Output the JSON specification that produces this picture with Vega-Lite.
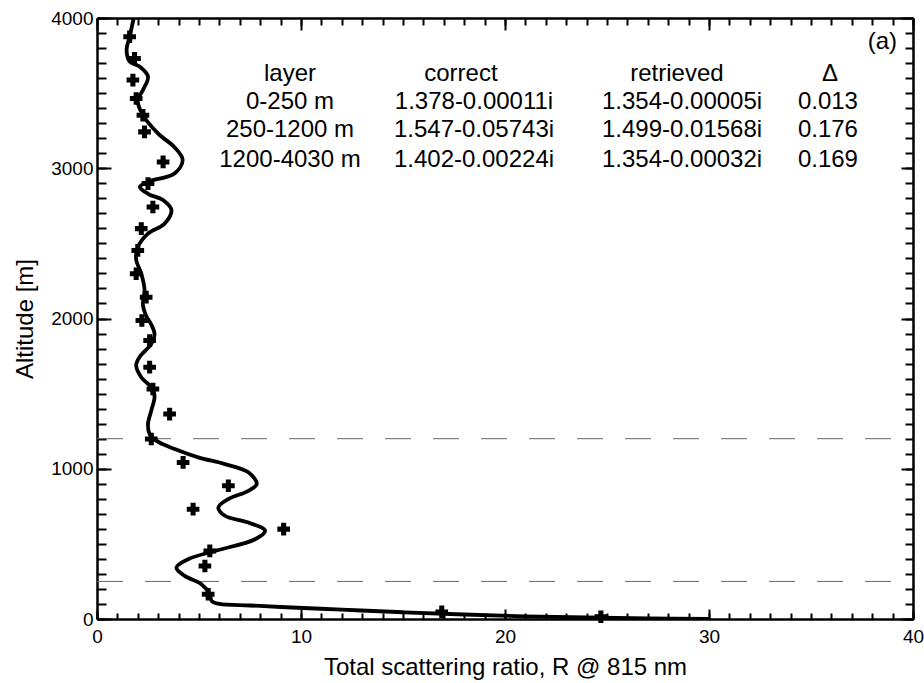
{
  "$schema": "https://vega.github.io/schema/vega-lite/v6.json",
  "width": 816,
  "height": 601,
  "autosize": {"type": "none"},
  "padding": {"left": 97, "top": 18, "right": 11, "bottom": 64},
  "background": "white",
  "config": {
    "view": {"stroke": null},
    "font": "Liberation Sans",
    "axis": {
      "domainColor": "black",
      "domainWidth": 2.5,
      "tickColor": "black",
      "tickWidth": 2,
      "labelColor": "black",
      "labelFont": "Liberation Sans",
      "labelFontSize": 19,
      "titleFont": "Liberation Sans",
      "titleFontSize": 24,
      "titleFontWeight": "normal",
      "titleColor": "black",
      "grid": false,
      "labelFlush": false,
      "labelOverlap": false
    }
  },
  "datasets": {
    "curve": [
      {"R": 1.85, "alt": 4030}, {"R": 1.6, "alt": 3875}, {"R": 1.45, "alt": 3790}, {"R": 1.6, "alt": 3710},
      {"R": 2.1, "alt": 3675}, {"R": 2.5, "alt": 3610}, {"R": 2.25, "alt": 3520}, {"R": 2.0, "alt": 3455},
      {"R": 2.2, "alt": 3365}, {"R": 3.0, "alt": 3230}, {"R": 3.8, "alt": 3140}, {"R": 4.2, "alt": 3055},
      {"R": 3.8, "alt": 2965}, {"R": 2.5, "alt": 2910}, {"R": 2.1, "alt": 2876}, {"R": 2.5, "alt": 2830},
      {"R": 3.25, "alt": 2787}, {"R": 3.65, "alt": 2720}, {"R": 3.3, "alt": 2630}, {"R": 2.5, "alt": 2565},
      {"R": 2.0, "alt": 2475}, {"R": 1.92, "alt": 2390}, {"R": 2.17, "alt": 2300}, {"R": 2.33, "alt": 2190},
      {"R": 2.25, "alt": 2090}, {"R": 2.4, "alt": 2020}, {"R": 2.66, "alt": 1960}, {"R": 2.82, "alt": 1898},
      {"R": 2.66, "alt": 1831}, {"R": 2.08, "alt": 1742}, {"R": 1.92, "alt": 1687}, {"R": 2.17, "alt": 1609},
      {"R": 2.74, "alt": 1531}, {"R": 2.82, "alt": 1476}, {"R": 2.66, "alt": 1387}, {"R": 2.5, "alt": 1298},
      {"R": 2.58, "alt": 1231}, {"R": 2.9, "alt": 1187}, {"R": 3.81, "alt": 1131}, {"R": 4.96, "alt": 1076},
      {"R": 6.27, "alt": 1031}, {"R": 7.42, "alt": 976}, {"R": 7.83, "alt": 898}, {"R": 7.42, "alt": 853},
      {"R": 6.44, "alt": 798}, {"R": 5.95, "alt": 742}, {"R": 6.27, "alt": 687}, {"R": 7.42, "alt": 642},
      {"R": 8.24, "alt": 587}, {"R": 7.75, "alt": 531}, {"R": 5.78, "alt": 453}, {"R": 4.47, "alt": 398},
      {"R": 3.89, "alt": 342}, {"R": 4.3, "alt": 287}, {"R": 5.12, "alt": 231}, {"R": 5.53, "alt": 165},
      {"R": 5.62, "alt": 120}, {"R": 6.0, "alt": 100}, {"R": 7.5, "alt": 90}, {"R": 9.0, "alt": 80},
      {"R": 12.0, "alt": 62}, {"R": 15.0, "alt": 45}, {"R": 18.0, "alt": 30}, {"R": 21.0, "alt": 18},
      {"R": 24.0, "alt": 10}, {"R": 27.0, "alt": 4}, {"R": 30.0, "alt": 0}
    ],
    "points": [
      {"R": 1.6, "alt": 3875}, {"R": 1.84, "alt": 3731}, {"R": 1.76, "alt": 3587}, {"R": 1.92, "alt": 3464},
      {"R": 2.25, "alt": 3353}, {"R": 2.33, "alt": 3242}, {"R": 3.24, "alt": 3042}, {"R": 2.5, "alt": 2898},
      {"R": 2.74, "alt": 2742}, {"R": 2.17, "alt": 2598}, {"R": 2.0, "alt": 2453}, {"R": 1.92, "alt": 2298},
      {"R": 2.41, "alt": 2142}, {"R": 2.2, "alt": 1987}, {"R": 2.58, "alt": 1853}, {"R": 2.58, "alt": 1676},
      {"R": 2.74, "alt": 1531}, {"R": 3.56, "alt": 1364}, {"R": 2.66, "alt": 1198}, {"R": 4.22, "alt": 1042},
      {"R": 6.44, "alt": 887}, {"R": 4.71, "alt": 731}, {"R": 9.15, "alt": 598}, {"R": 5.53, "alt": 453},
      {"R": 5.29, "alt": 353}, {"R": 5.45, "alt": 165}, {"R": 16.9, "alt": 47}, {"R": 24.7, "alt": 15}
    ],
    "bounds": [{"alt": 1200}, {"alt": 250}],
    "labels": [
      {"text": "layer", "R": 9.46, "alt": 3627},
      {"text": "correct", "R": 17.84, "alt": 3627},
      {"text": "retrieved", "R": 28.43, "alt": 3627},
      {"text": "Δ", "R": 35.93, "alt": 3627},
      {"text": "0-250 m", "R": 9.46, "alt": 3444},
      {"text": "1.378-0.00011i", "R": 18.48, "alt": 3444},
      {"text": "1.354-0.00005i", "R": 28.68, "alt": 3444},
      {"text": "0.013", "R": 35.83, "alt": 3444},
      {"text": "250-1200 m", "R": 9.46, "alt": 3255},
      {"text": "1.547-0.05743i", "R": 18.48, "alt": 3255},
      {"text": "1.499-0.01568i", "R": 28.68, "alt": 3255},
      {"text": "0.176", "R": 35.83, "alt": 3255},
      {"text": "1200-4030 m", "R": 9.46, "alt": 3055},
      {"text": "1.402-0.00224i", "R": 18.48, "alt": 3055},
      {"text": "1.354-0.00032i", "R": 28.68, "alt": 3055},
      {"text": "0.169", "R": 35.83, "alt": 3055},
      {"text": "(a)", "R": 38.5, "alt": 3840}
    ]
  },
  "layer": [
    {
      "data": {"name": "bounds"},
      "mark": {"type": "rule", "color": "#666666", "strokeWidth": 1, "strokeDash": [26, 22]},
      "encoding": {
        "x": {
          "datum": 0, "type": "quantitative",
          "scale": {"domain": [0, 40], "nice": false},
          "axis": {
            "orient": "bottom",
            "title": "Total scattering ratio, R @ 815 nm",
            "values": [0, 10, 20, 30, 40],
            "tickSize": -10,
            "labelPadding": 18,
            "titlePadding": 9
          }
        },
        "x2": {"datum": 40},
        "y": {
          "field": "alt", "type": "quantitative",
          "scale": {"domain": [0, 4000], "nice": false},
          "axis": {
            "orient": "left",
            "title": "Altitude [m]",
            "values": [0, 1000, 2000, 3000, 4000],
            "format": "d",
            "tickSize": -14,
            "labelPadding": 18,
            "titlePadding": 13
          }
        }
      }
    },
    {
      "data": {"name": "curve"},
      "mark": {"type": "line", "color": "black", "strokeWidth": 3.8, "interpolate": "catmull-rom", "clip": true},
      "encoding": {
        "x": {
          "field": "R", "type": "quantitative",
          "scale": {"domain": [0, 40], "nice": false},
          "axis": {
            "orient": "bottom", "title": null, "labels": false, "domain": false,
            "values": [0,1,2,3,4,5,6,7,8,9,10,11,12,13,14,15,16,17,18,19,20,21,22,23,24,25,26,27,28,29,30,31,32,33,34,35,36,37,38,39,40],
            "tickSize": -6
          }
        },
        "y": {
          "field": "alt", "type": "quantitative",
          "scale": {"domain": [0, 4000], "nice": false},
          "axis": {
            "orient": "left", "title": null, "labels": false, "domain": false,
            "values": [0,100,200,300,400,500,600,700,800,900,1000,1100,1200,1300,1400,1500,1600,1700,1800,1900,2000,2100,2200,2300,2400,2500,2600,2700,2800,2900,3000,3100,3200,3300,3400,3500,3600,3700,3800,3900,4000],
            "tickSize": -9
          }
        },
        "order": {"field": "alt", "type": "quantitative", "sort": "descending"}
      }
    },
    {
      "data": {"name": "points"},
      "mark": {"type": "point", "shape": "cross", "filled": true, "color": "black", "size": 160, "opacity": 1},
      "encoding": {
        "x": {
          "field": "R", "type": "quantitative",
          "scale": {"domain": [0, 40], "nice": false},
          "axis": {
            "orient": "top", "title": null, "labels": false,
            "values": [0, 10, 20, 30, 40],
            "tickSize": -12
          }
        },
        "y": {
          "field": "alt", "type": "quantitative",
          "scale": {"domain": [0, 4000], "nice": false},
          "axis": {
            "orient": "right", "title": null, "labels": false,
            "values": [0, 1000, 2000, 3000, 4000],
            "tickSize": -12
          }
        }
      }
    },
    {
      "data": {"name": "labels"},
      "mark": {"type": "text", "font": "Liberation Sans", "fontSize": 24, "color": "black", "align": "center", "baseline": "middle"},
      "encoding": {
        "x": {
          "field": "R", "type": "quantitative",
          "scale": {"domain": [0, 40], "nice": false},
          "axis": {
            "orient": "top", "title": null, "labels": false, "domain": false,
            "values": [0,1,2,3,4,5,6,7,8,9,10,11,12,13,14,15,16,17,18,19,20,21,22,23,24,25,26,27,28,29,30,31,32,33,34,35,36,37,38,39,40],
            "tickSize": -7
          }
        },
        "y": {
          "field": "alt", "type": "quantitative",
          "scale": {"domain": [0, 4000], "nice": false},
          "axis": {
            "orient": "right", "title": null, "labels": false, "domain": false,
            "values": [0,100,200,300,400,500,600,700,800,900,1000,1100,1200,1300,1400,1500,1600,1700,1800,1900,2000,2100,2200,2300,2400,2500,2600,2700,2800,2900,3000,3100,3200,3300,3400,3500,3600,3700,3800,3900,4000],
            "tickSize": -8
          }
        },
        "text": {"field": "text"}
      }
    }
  ],
  "resolve": {"axis": {"x": "independent", "y": "independent"}}
}
